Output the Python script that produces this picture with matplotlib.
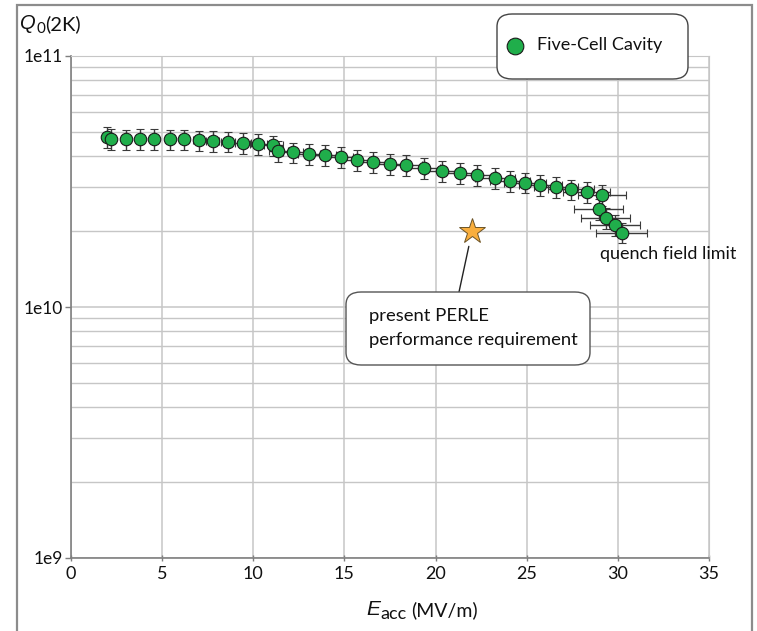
import matplotlib
matplotlib.use("Agg")
import matplotlib.pyplot as plt
import numpy as np
from matplotlib.patches import FancyBboxPatch, Rectangle
from matplotlib.lines import Line2D
from matplotlib.ticker import FixedLocator, FixedFormatter, LogLocator, NullFormatter

plt.rcParams['font.family'] = ['Lato', 'DejaVu Sans']

# ---- data ----
E_acc = [1.96, 2.19, 3.0, 3.79, 4.57, 5.41, 6.2, 7.0, 7.77, 8.6, 9.45, 10.27, 11.1, 11.36,
         12.19, 13.05, 13.91, 14.79, 15.71, 16.58, 17.48, 18.4, 19.35, 20.37, 21.32, 22.29,
         23.26, 24.08, 24.9, 25.74, 26.6, 27.43, 28.29, 29.13, 28.95, 29.33, 29.83, 30.21]
Q0 = [4.77e10, 4.67e10, 4.65e10, 4.67e10, 4.67e10, 4.65e10, 4.65e10, 4.61e10, 4.60e10, 4.56e10,
      4.50e10, 4.45e10, 4.40e10, 4.18e10, 4.13e10, 4.07e10, 4.02e10, 3.95e10, 3.85e10, 3.79e10,
      3.72e10, 3.67e10, 3.57e10, 3.49e10, 3.43e10, 3.35e10, 3.27e10, 3.18e10, 3.13e10, 3.07e10,
      3.01e10, 2.94e10, 2.87e10, 2.80e10, 2.45e10, 2.27e10, 2.12e10, 1.98e10]
Q0_rel_err = 0.095     # relative uncertainty on Q0
E_rel_err = 0.046      # relative uncertainty on E_acc
req_E = [22.0]
req_Q = [2.0e10]
x_ticks = [0, 5, 10, 15, 20, 25, 30, 35]
y_ticks = [1e9, 1e10, 1e11]
y_tick_labels = ['1e9', '1e10', '1e11']

W, H = 757, 631
fig = plt.figure(figsize=(W / 100, H / 100), dpi=100)
ax = fig.add_axes([71 / W, 1 - 558 / H, (709 - 71) / W, (558 - 56) / H])

E = np.array(E_acc)
Q = np.array(Q0)
ax.errorbar(E, Q, yerr=Q * Q0_rel_err, xerr=E * E_rel_err, fmt='o', ms=9,
            mfc='#20AE4B', mec='#1a1a1a', mew=0.8, ecolor='#3a3a3a', elinewidth=1.0,
            capsize=3, capthick=1.0, zorder=3)

ax.plot(req_E, req_Q, marker='*', ms=19, mfc='#F9AE3D', mec='#6b5326', mew=0.7,
        ls='none', zorder=4)

ax.set_yscale('log')
ax.set_xlim(0, 35)
ax.set_ylim(1e9, 1e11)
ax.xaxis.set_major_locator(FixedLocator(x_ticks))
ax.yaxis.set_major_locator(FixedLocator(y_ticks))
ax.yaxis.set_major_formatter(FixedFormatter(y_tick_labels))
ax.yaxis.set_minor_locator(LogLocator(base=10, subs=np.arange(2, 10)))
ax.yaxis.set_minor_formatter(NullFormatter())
ax.tick_params(axis='y', which='minor', length=0)
ax.tick_params(axis='both', which='major', length=4, width=1, color='#7f7f7f',
               labelsize=12.5, labelcolor='#111111')
ax.tick_params(axis='x', direction='inout', pad=4, labelsize=13)
ax.tick_params(axis='y', direction='out', pad=2)
ax.grid(True, which='major', color='#c6c6c6', lw=1.1)
ax.grid(True, which='minor', axis='y', color='#c6c6c6', lw=1.0)
ax.set_axisbelow(True)
for s in ['top', 'right']:
    ax.spines[s].set_color('#c6c6c6')
for s in ['left', 'bottom']:
    ax.spines[s].set_color('#808080')
    ax.spines[s].set_linewidth(1.2)

ITAL = ['Liberation Sans', 'DejaVu Sans']

# y axis label: Q (italic) + subscript 0 + (2K)
tq = fig.text(20 / W, 1 - 33 / H, 'Q', fontsize=14.5, style='italic', family=ITAL,
              va='bottom', ha='left', color='#111111')
t0 = ax.annotate('0', xy=(1, 0), xycoords=tq, xytext=(0.3, -2.5), textcoords='offset points',
                 fontsize=11, va='bottom', ha='left', color='#111111', annotation_clip=False)
ax.annotate('(2K)', xy=(1, 0), xycoords=(t0, tq), xytext=(0.3, 0), textcoords='offset points',
            fontsize=14.5, va='bottom', ha='left', color='#111111', annotation_clip=False)

# x axis label: E (italic) + subscript acc + (MV/m)
te = fig.text(366 / W, 1 - 619 / H, 'E', fontsize=15, style='italic', family=ITAL,
              va='bottom', ha='left', color='#111111')
ta = ax.annotate('acc', xy=(1, 0), xycoords=te, xytext=(0.5, -2.5), textcoords='offset points',
                 fontsize=13, va='bottom', ha='left', color='#111111', annotation_clip=False)
ax.annotate('(MV/m)', xy=(1, 0), xycoords=(ta, te), xytext=(3, 0), textcoords='offset points',
            fontsize=14, va='bottom', ha='left', color='#111111', annotation_clip=False)

# quench label
ax.text(29.0, 1.62e10, 'quench field limit', fontsize=13, ha='left', va='center', color='#111111')

# requirement annotation box
bx0, by0, bx1, by1 = 346, 292, 590, 365
fig.patches.append(FancyBboxPatch((bx0 / W, 1 - by1 / H), (bx1 - bx0) / W, (by1 - by0) / H,
                                  boxstyle='round,pad=0,rounding_size=0.02',
                                  transform=fig.transFigure, fc='white', ec='#555555', lw=1.0,
                                  zorder=5))
fig.text(369 / W, 1 - 328 / H, 'present PERLE\nperformance requirement', fontsize=13.3,
         ha='left', va='center', linespacing=1.55, color='#111111', zorder=6)
ax.annotate('', xy=(req_E[0], req_Q[0]), xycoords='data',
            xytext=(459 / W, 1 - by0 / H), textcoords='figure fraction',
            arrowprops=dict(arrowstyle='-', color='#222222', lw=1.0, shrinkA=0, shrinkB=11))

# legend box
lx0, ly0, lx1, ly1 = 497, 14, 688, 79
fig.patches.append(FancyBboxPatch((lx0 / W, 1 - ly1 / H), (lx1 - lx0) / W, (ly1 - ly0) / H,
                                  boxstyle='round,pad=0,rounding_size=0.02',
                                  transform=fig.transFigure, fc='white', ec='#444444', lw=1.0,
                                  zorder=5))
fig.add_artist(Line2D([515 / W], [1 - 46 / H], marker='o', ms=12, mfc='#20AE4B', mec='#1a1a1a',
                      mew=0.8, transform=fig.transFigure, zorder=6))
fig.text(537 / W, 1 - 45 / H, 'Five-Cell Cavity', fontsize=13, ha='left', va='center',
         color='#111111', zorder=6)

# outer frame
fig.patches.append(Rectangle((17 / W, -0.05), (752 - 17) / W, 1.05 - 5 / H, fill=False,
                             ec='#8c8c8c', lw=1.6, transform=fig.transFigure, zorder=1))

fig.savefig('out.png', dpi=100)
